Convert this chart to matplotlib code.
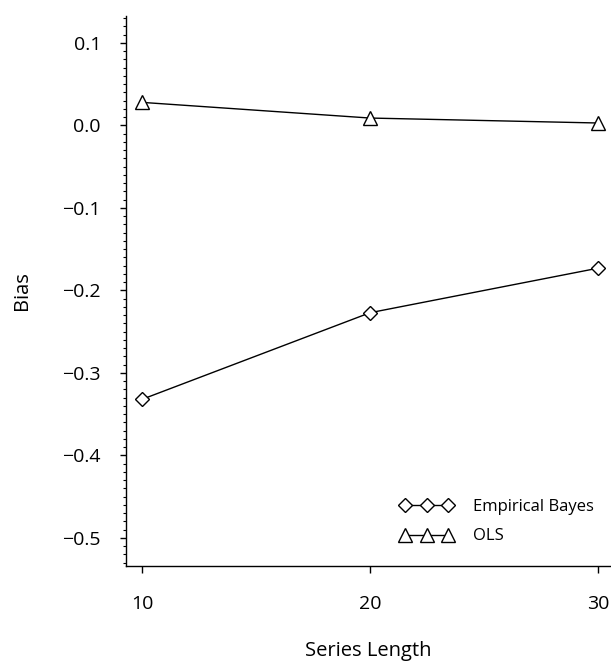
import matplotlib.pyplot as plt
from matplotlib.ticker import MultipleLocator

plt.rcParams['font.family'] = ['Open Sans', 'DejaVu Sans']

series_length = [10, 20, 30]
bias_eb = [-0.332, -0.227, -0.173]
bias_ols = [0.028, 0.009, 0.003]
y_ticks = [0.1, 0.0, -0.1, -0.2, -0.3, -0.4, -0.5]
y_labels = ['0.1', '0.0', '\u22120.1', '\u22120.2', '\u22120.3', '\u22120.4', '\u22120.5']

fig = plt.figure(figsize=(6.11, 6.62), dpi=100)
ax = fig.add_axes([126 / 611, 1 - 566 / 662, 1 - 126 / 611, (566 - 16) / 662])

ax.plot(series_length, bias_eb, color='black', linewidth=1.0, marker='D',
        markersize=7.5, markerfacecolor='white', markeredgecolor='black',
        markeredgewidth=1.0, label='Empirical Bayes')
ax.plot(series_length, bias_ols, color='black', linewidth=1.0, marker='^',
        markersize=10, markerfacecolor='white', markeredgecolor='black',
        markeredgewidth=1.0, label='OLS')

ax.set_xlim(9.3, 30.57)
ax.set_ylim(-0.534, 0.1327)
ax.set_xticks(series_length)
ax.set_yticks(y_ticks)
ax.set_yticklabels(y_labels)
ax.yaxis.set_minor_locator(MultipleLocator(0.01))

for side in ['top', 'right']:
    ax.spines[side].set_visible(False)
for side in ['left', 'bottom']:
    ax.spines[side].set_linewidth(1.0)

ax.tick_params(axis='y', which='major', length=4, width=1, pad=14, labelsize=14)
ax.tick_params(axis='y', which='minor', length=2.5, width=0.8)
ax.tick_params(axis='x', which='major', length=5, width=1, pad=16, labelsize=14)

ax.set_xlabel('Series Length', fontsize=14.5, labelpad=20)
ax.set_ylabel('Bias', fontsize=14.5, labelpad=22)

leg = ax.legend(loc='lower right', bbox_to_anchor=(0.996, 0.012), frameon=False,
                numpoints=3, handlelength=3.2, handletextpad=1.2,
                fontsize=12, labelspacing=0.8)

fig.savefig('out.png', dpi=100)
